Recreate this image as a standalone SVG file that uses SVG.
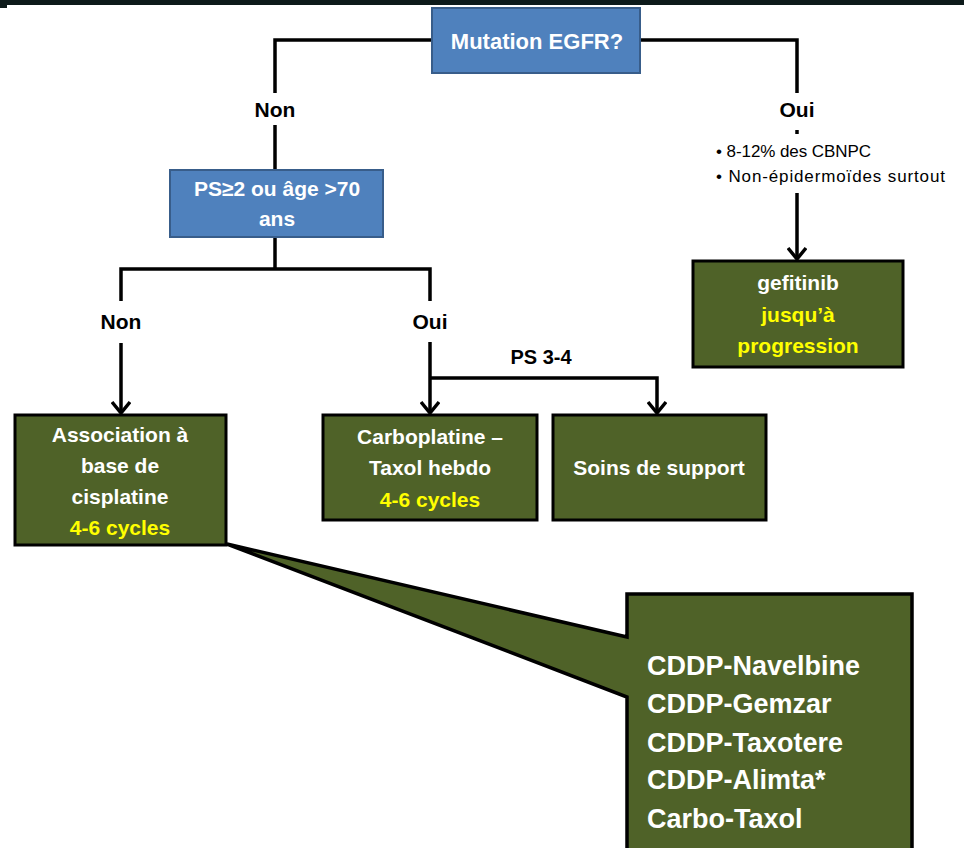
<svg xmlns="http://www.w3.org/2000/svg" width="964" height="848" viewBox="0 0 964 848">
<defs>
<marker id="arr" viewBox="0 0 20 20" refX="17" refY="10" markerWidth="20" markerHeight="20" markerUnits="userSpaceOnUse" orient="auto">
<polyline points="6,1 17,10 6,19" fill="none" stroke="#000" stroke-width="3.5"/>
</marker>
<style>
.blue{fill:#4f81bd;stroke:#385d8a;stroke-width:2}
.green{fill:#4f6228;stroke:#000;stroke-width:3}
.t{font-family:"Liberation Sans",Arial,sans-serif;font-weight:bold;font-size:21px;text-anchor:middle}
.w{fill:#fff}
.y{fill:#ffff00}
.k{fill:#000}
.s{font-family:"Liberation Sans",Arial,sans-serif;font-size:17px;fill:#000}
.c{font-family:"Liberation Sans",Arial,sans-serif;font-weight:bold;font-size:27px;fill:#fff}
.ln{fill:none;stroke:#000;stroke-width:3.5}
</style>
</defs>
<rect x="0" y="0" width="964" height="848" fill="#fff"/>
<rect x="0" y="0" width="964" height="5" fill="#0d1a1a"/>
<rect x="0" y="0" width="7" height="8" fill="#0d1a1a"/>

<g id="connectors">
<polyline class="ln" points="432,40 275,40 275,93"/>
<line class="ln" x1="275" y1="125" x2="275" y2="170"/>
<polyline class="ln" points="640,40 797,40 797,93"/>
<line class="ln" x1="797" y1="130" x2="797" y2="134"/>
<line class="ln" x1="797" y1="193" x2="797" y2="259" marker-end="url(#arr)"/>
<line class="ln" x1="275" y1="237" x2="275" y2="269"/>
<polyline class="ln" points="121,301 121,269 430,269 430,301"/>
<line class="ln" x1="121" y1="343" x2="121" y2="413" marker-end="url(#arr)"/>
<line class="ln" x1="430" y1="342" x2="430" y2="413" marker-end="url(#arr)"/>
<polyline class="ln" points="430,378 657,378 657,413" marker-end="url(#arr)"/>
<text class="t k" x="275" y="117">Non</text>
<text class="t k" x="797" y="117">Oui</text>
<text class="t k" x="121" y="329">Non</text>
<text class="t k" x="430" y="329">Oui</text>
<text class="t k" x="541" y="364" style="font-size:20px">PS 3-4</text>
<text class="s" x="716" y="157" textLength="155">• 8-12% des CBNPC</text>
<text class="s" x="716" y="182" textLength="229">• Non-épidermoïdes surtout</text>
</g>

<g id="n-egfr">
<rect class="blue" x="432" y="8" width="208" height="65"/>
<text class="t w" x="537" y="49" style="font-size:22px">Mutation EGFR?</text>
</g>

<g id="n-ps">
<rect class="blue" x="170" y="170" width="213" height="67"/>
<text class="t w" x="277" y="196">PS≥2 ou âge &gt;70</text>
<text class="t w" x="277" y="226">ans</text>
</g>

<g id="n-gefitinib">
<rect class="green" x="693" y="261" width="210" height="106"/>
<text class="t w" x="798" y="290">gefitinib</text>
<text class="t y" x="798" y="322">jusqu’à</text>
<text class="t y" x="798" y="353">progression</text>
</g>

<g id="n-cisplatine">
<rect class="green" x="15" y="415" width="211" height="130"/>
<text class="t w" x="120" y="442">Association à</text>
<text class="t w" x="120" y="473">base de</text>
<text class="t w" x="120" y="504">cisplatine</text>
<text class="t y" x="120" y="535">4-6 cycles</text>
</g>

<g id="n-carbo">
<rect class="green" x="323" y="415" width="214" height="105"/>
<text class="t w" x="430" y="444">Carboplatine –</text>
<text class="t w" x="430" y="475">Taxol hebdo</text>
<text class="t y" x="430" y="507">4-6 cycles</text>
</g>

<g id="n-soins">
<rect class="green" x="553" y="415" width="213" height="105"/>
<text class="t w" x="659" y="475">Soins de support</text>
</g>

<g id="n-callout">
<path d="M627,594 L912,594 L912,852 L627,852 L627,697 L227,544 L627,637 Z" fill="#4f6228" stroke="#000" stroke-width="3.5" stroke-linejoin="miter"/>
<text class="c" x="647" y="675">CDDP-Navelbine</text>
<text class="c" x="647" y="713">CDDP-Gemzar</text>
<text class="c" x="647" y="752">CDDP-Taxotere</text>
<text class="c" x="647" y="789">CDDP-Alimta*</text>
<text class="c" x="647" y="828">Carbo-Taxol</text>
</g>
</svg>
